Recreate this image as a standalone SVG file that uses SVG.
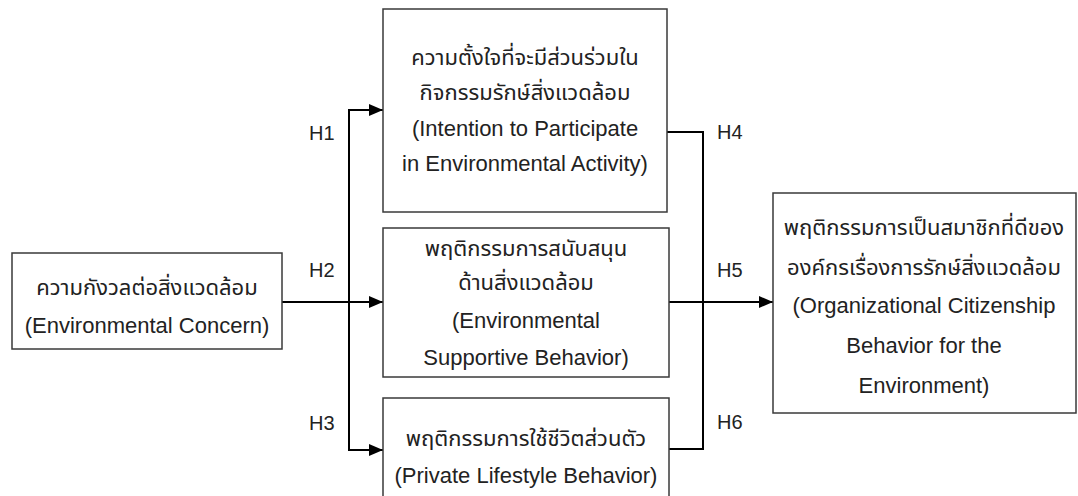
<svg xmlns="http://www.w3.org/2000/svg" width="1078" height="496" viewBox="0 0 1078 496">
<style>
.box{fill:#fff;stroke:#3a3a3a;stroke-width:1.5}
.t{font-family:"Liberation Sans","Noto Sans","Noto Sans Thai","DejaVu Sans",sans-serif;font-size:22px;fill:#222;text-anchor:middle}
.lbl{font-family:"Liberation Sans","Noto Sans",sans-serif;font-size:20px;fill:#222}
.c{fill:none;stroke:#000;stroke-width:2}
</style>
<defs>
<marker id="ah" viewBox="0 0 14 12" refX="14" refY="6" markerWidth="14" markerHeight="12" markerUnits="userSpaceOnUse" orient="auto">
<path d="M0,0 L14,6 L0,12 Z" fill="#000"/>
</marker>
</defs>
<rect width="1078" height="496" fill="#fff"/>
<g id="connectors">
<path class="c" d="M282,302 H383" marker-end="url(#ah)"/>
<path class="c" d="M383,110 H349 V450 H383" marker-end="url(#ah)"/>
<path class="c" d="M349,110 H383" marker-end="url(#ah)"/>
<path class="c" d="M667,132 H703 V449 H669"/>
<path class="c" d="M669,302 H773" marker-end="url(#ah)"/>
</g>
<g id="labels">
<text class="lbl" x="309" y="140">H1</text>
<text class="lbl" x="309" y="277">H2</text>
<text class="lbl" x="309" y="430">H3</text>
<text class="lbl" x="717" y="139">H4</text>
<text class="lbl" x="717" y="277">H5</text>
<text class="lbl" x="717" y="429">H6</text>
</g>
<g id="node-concern">
<rect class="box" x="12" y="253" width="270" height="96"/>
<text class="t" x="147" y="295">ความกังวลต่อสิ่งแวดล้อม</text>
<text class="t" x="147" y="333">(Environmental Concern)</text>
</g>
<g id="node-intention">
<rect class="box" x="383" y="9" width="284" height="203"/>
<text class="t" x="525" y="65">ความตั้งใจที่จะมีส่วนร่วมใน</text>
<text class="t" x="525" y="100">กิจกรรมรักษ์สิ่งแวดล้อม</text>
<text class="t" x="525" y="136">(Intention to Participate</text>
<text class="t" x="525" y="171">in Environmental Activity)</text>
</g>
<g id="node-supportive">
<rect class="box" x="383" y="228" width="286" height="149"/>
<text class="t" x="526" y="256">พฤติกรรมการสนับสนุน</text>
<text class="t" x="526" y="290">ด้านสิ่งแวดล้อม</text>
<text class="t" x="526" y="328">(Environmental</text>
<text class="t" x="526" y="365">Supportive Behavior)</text>
</g>
<g id="node-lifestyle">
<rect class="box" x="383" y="398" width="286" height="110"/>
<text class="t" x="526" y="446">พฤติกรรมการใช้ชีวิตส่วนตัว</text>
<text class="t" x="526" y="483">(Private Lifestyle Behavior)</text>
</g>
<g id="node-ocbe">
<rect class="box" x="773" y="193" width="303" height="220"/>
<text class="t" x="924" y="235">พฤติกรรมการเป็นสมาชิกที่ดีของ</text>
<text class="t" x="924" y="275">องค์กรเรื่องการรักษ์สิ่งแวดล้อม</text>
<text class="t" x="924" y="313">(Organizational Citizenship</text>
<text class="t" x="924" y="353">Behavior for the</text>
<text class="t" x="924" y="393">Environment)</text>
</g>
</svg>
